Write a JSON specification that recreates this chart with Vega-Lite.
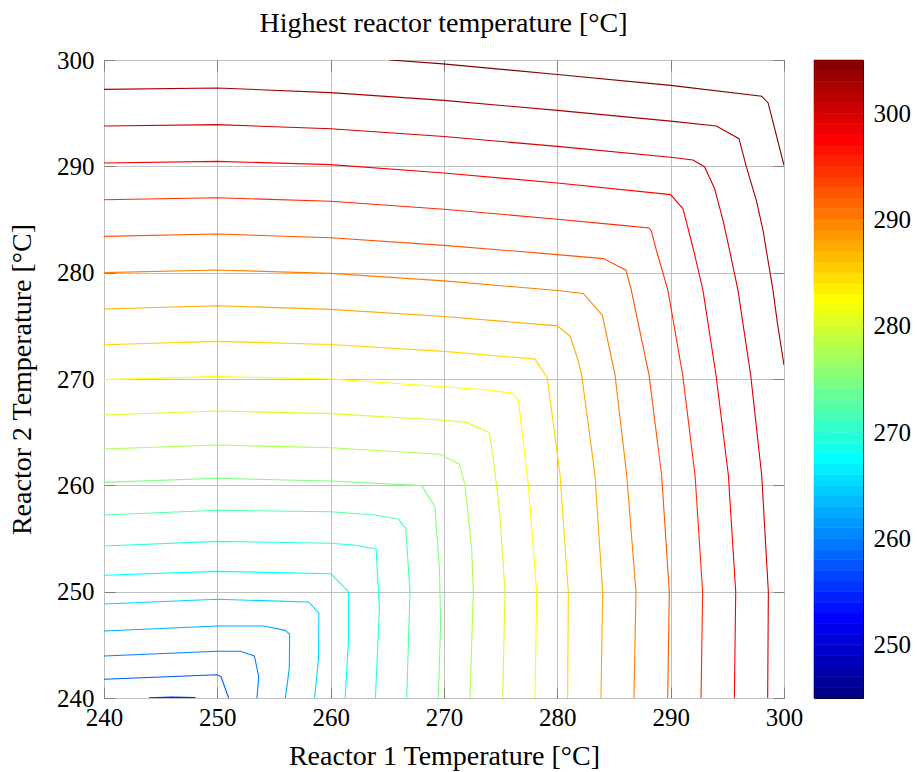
{
"$schema":"https://vega.github.io/schema/vega-lite/v6.json",
"padding":{"left":8,"top":9,"right":0,"bottom":0},
"title":{"text":"Highest reactor temperature [°C]","anchor":"middle","dx":-16,"offset":10,"font":"Liberation Serif","fontSize":28,"fontWeight":"normal","color":"#000000"},
"spacing":6,
"datasets":{
"contours":[
{"lvl":305,"i":0,"x":265.2,"y":300},{"lvl":305,"i":1,"x":269.65,"y":299.66},{"lvl":305,"i":2,"x":280,"y":298.64},{"lvl":305,"i":3,"x":290,"y":297.61},{"lvl":305,"i":4,"x":298.03,"y":296.6},{"lvl":305,"i":5,"x":298.6,"y":295.96},{"lvl":305,"i":6,"x":300,"y":290.1},
{"lvl":302.5,"i":0,"x":240,"y":297.24},{"lvl":302.5,"i":1,"x":250,"y":297.37},{"lvl":302.5,"i":2,"x":260,"y":296.93},{"lvl":302.5,"i":3,"x":270,"y":296.2},{"lvl":302.5,"i":4,"x":280,"y":295.26},{"lvl":302.5,"i":5,"x":290,"y":294.25},{"lvl":302.5,"i":6,"x":294.03,"y":293.8},{"lvl":302.5,"i":7,"x":296.03,"y":292.6},{"lvl":302.5,"i":8,"x":296.68,"y":289.94},{"lvl":302.5,"i":9,"x":297.56,"y":286.8},{"lvl":302.5,"i":10,"x":298.15,"y":283.98},{"lvl":302.5,"i":11,"x":298.44,"y":282.1},{"lvl":302.5,"i":12,"x":299.03,"y":278.34},{"lvl":302.5,"i":13,"x":299.4,"y":275.4},{"lvl":302.5,"i":14,"x":300,"y":271.3},
{"lvl":300,"i":0,"x":240,"y":293.79},{"lvl":300,"i":1,"x":250,"y":293.92},{"lvl":300,"i":2,"x":260,"y":293.54},{"lvl":300,"i":3,"x":270,"y":292.8},{"lvl":300,"i":4,"x":280,"y":291.88},{"lvl":300,"i":5,"x":290,"y":290.85},{"lvl":300,"i":6,"x":291.97,"y":290.6},{"lvl":300,"i":7,"x":293.0,"y":289.94},{"lvl":300,"i":8,"x":293.88,"y":287.9},{"lvl":300,"i":9,"x":294.62,"y":284.92},{"lvl":300,"i":10,"x":295.2,"y":282.1},{"lvl":300,"i":11,"x":295.94,"y":278.34},{"lvl":300,"i":12,"x":297.06,"y":270.38},{"lvl":300,"i":13,"x":298.03,"y":260.97},{"lvl":300,"i":14,"x":298.62,"y":250},{"lvl":300,"i":15,"x":298.56,"y":240},
{"lvl":297.5,"i":0,"x":240,"y":290.31},{"lvl":297.5,"i":1,"x":250,"y":290.47},{"lvl":297.5,"i":2,"x":260,"y":290.16},{"lvl":297.5,"i":3,"x":270,"y":289.37},{"lvl":297.5,"i":4,"x":280,"y":288.43},{"lvl":297.5,"i":5,"x":290,"y":287.34},{"lvl":297.5,"i":6,"x":291.09,"y":286.0},{"lvl":297.5,"i":7,"x":292.03,"y":282.1},{"lvl":297.5,"i":8,"x":292.85,"y":278.34},{"lvl":297.5,"i":9,"x":294.0,"y":270.38},{"lvl":297.5,"i":10,"x":295.09,"y":260.97},{"lvl":297.5,"i":11,"x":295.74,"y":250},{"lvl":297.5,"i":12,"x":295.62,"y":240},
{"lvl":295,"i":0,"x":240,"y":286.86},{"lvl":295,"i":1,"x":250,"y":287.05},{"lvl":295,"i":2,"x":260,"y":286.71},{"lvl":295,"i":3,"x":270,"y":285.97},{"lvl":295,"i":4,"x":280,"y":285.02},{"lvl":295,"i":5,"x":285.5,"y":284.47},{"lvl":295,"i":6,"x":288.09,"y":284.2},{"lvl":295,"i":7,"x":288.3,"y":283.9},{"lvl":295,"i":8,"x":288.74,"y":282.1},{"lvl":295,"i":9,"x":289.76,"y":278.34},{"lvl":295,"i":10,"x":291.06,"y":270.38},{"lvl":295,"i":11,"x":292.15,"y":260.97},{"lvl":295,"i":12,"x":292.82,"y":250},{"lvl":295,"i":13,"x":292.68,"y":240},
{"lvl":292.5,"i":0,"x":240,"y":283.41},{"lvl":292.5,"i":1,"x":250,"y":283.63},{"lvl":292.5,"i":2,"x":260,"y":283.29},{"lvl":292.5,"i":3,"x":270,"y":282.57},{"lvl":292.5,"i":4,"x":280,"y":281.7},{"lvl":292.5,"i":5,"x":284.06,"y":281.32},{"lvl":292.5,"i":6,"x":286.06,"y":280.23},{"lvl":292.5,"i":7,"x":286.53,"y":278.34},{"lvl":292.5,"i":8,"x":288.09,"y":270.38},{"lvl":292.5,"i":9,"x":289.2,"y":260.97},{"lvl":292.5,"i":10,"x":289.88,"y":250},{"lvl":292.5,"i":11,"x":289.74,"y":240},
{"lvl":290,"i":0,"x":240,"y":280.0},{"lvl":290,"i":1,"x":250,"y":280.25},{"lvl":290,"i":2,"x":260,"y":279.93},{"lvl":290,"i":3,"x":270,"y":279.23},{"lvl":290,"i":4,"x":280,"y":278.32},{"lvl":290,"i":5,"x":282.29,"y":278.04},{"lvl":290,"i":6,"x":283.97,"y":276.0},{"lvl":290,"i":7,"x":285.09,"y":270.38},{"lvl":290,"i":8,"x":286.12,"y":260.97},{"lvl":290,"i":9,"x":286.94,"y":250},{"lvl":290,"i":10,"x":286.76,"y":240},
{"lvl":287.5,"i":0,"x":240,"y":276.58},{"lvl":287.5,"i":1,"x":250,"y":276.89},{"lvl":287.5,"i":2,"x":260,"y":276.55},{"lvl":287.5,"i":3,"x":270,"y":275.88},{"lvl":287.5,"i":4,"x":280,"y":275.0},{"lvl":287.5,"i":5,"x":281.12,"y":274.03},{"lvl":287.5,"i":6,"x":281.76,"y":271.99},{"lvl":287.5,"i":7,"x":282.15,"y":270.38},{"lvl":287.5,"i":8,"x":283.32,"y":260.97},{"lvl":287.5,"i":9,"x":284.0,"y":250},{"lvl":287.5,"i":10,"x":283.85,"y":240},
{"lvl":285,"i":0,"x":240,"y":273.22},{"lvl":285,"i":1,"x":250,"y":273.54},{"lvl":285,"i":2,"x":260,"y":273.25},{"lvl":285,"i":3,"x":270,"y":272.6},{"lvl":285,"i":4,"x":278.03,"y":271.87},{"lvl":285,"i":5,"x":279.12,"y":270.11},{"lvl":285,"i":6,"x":280.24,"y":260.97},{"lvl":285,"i":7,"x":280.97,"y":250},{"lvl":285,"i":8,"x":280.91,"y":240},
{"lvl":282.5,"i":0,"x":240,"y":269.94},{"lvl":282.5,"i":1,"x":250,"y":270.22},{"lvl":282.5,"i":2,"x":260,"y":270.0},{"lvl":282.5,"i":3,"x":269.65,"y":269.3},{"lvl":282.5,"i":4,"x":273.91,"y":268.97},{"lvl":282.5,"i":5,"x":276.06,"y":268.65},{"lvl":282.5,"i":6,"x":276.56,"y":268.03},{"lvl":282.5,"i":7,"x":277.44,"y":260.03},{"lvl":282.5,"i":8,"x":278.18,"y":250},{"lvl":282.5,"i":9,"x":278.03,"y":240},
{"lvl":280,"i":0,"x":240,"y":266.61},{"lvl":280,"i":1,"x":250,"y":266.99},{"lvl":280,"i":2,"x":260,"y":266.74},{"lvl":280,"i":3,"x":269.65,"y":266.14},{"lvl":280,"i":4,"x":272.0,"y":265.92},{"lvl":280,"i":5,"x":274.0,"y":264.95},{"lvl":280,"i":6,"x":274.35,"y":262.54},{"lvl":280,"i":7,"x":274.94,"y":257.21},{"lvl":280,"i":8,"x":275.38,"y":250},{"lvl":280,"i":9,"x":275.18,"y":240},
{"lvl":277.5,"i":0,"x":240,"y":263.42},{"lvl":277.5,"i":1,"x":250,"y":263.79},{"lvl":277.5,"i":2,"x":260,"y":263.54},{"lvl":277.5,"i":3,"x":269.65,"y":262.92},{"lvl":277.5,"i":4,"x":271.35,"y":262.01},{"lvl":277.5,"i":5,"x":271.85,"y":260.03},{"lvl":277.5,"i":6,"x":272.44,"y":254.08},{"lvl":277.5,"i":7,"x":272.59,"y":250},{"lvl":277.5,"i":8,"x":272.29,"y":240},
{"lvl":275,"i":0,"x":240,"y":260.28},{"lvl":275,"i":1,"x":250,"y":260.66},{"lvl":275,"i":2,"x":260,"y":260.41},{"lvl":275,"i":3,"x":268.03,"y":259.97},{"lvl":275,"i":4,"x":269.2,"y":257.99},{"lvl":275,"i":5,"x":269.6,"y":252},{"lvl":275,"i":6,"x":269.7,"y":247},{"lvl":275,"i":7,"x":269.5,"y":240},
{"lvl":272.5,"i":0,"x":240,"y":257.21},{"lvl":272.5,"i":1,"x":250,"y":257.65},{"lvl":272.5,"i":2,"x":260,"y":257.52},{"lvl":272.5,"i":3,"x":263.92,"y":257.21},{"lvl":272.5,"i":4,"x":265.98,"y":256.83},{"lvl":272.5,"i":5,"x":266.62,"y":255.96},{"lvl":272.5,"i":6,"x":267.0,"y":250},{"lvl":272.5,"i":7,"x":266.71,"y":240},
{"lvl":270,"i":0,"x":240,"y":254.3},{"lvl":270,"i":1,"x":250,"y":254.73},{"lvl":270,"i":2,"x":260,"y":254.55},{"lvl":270,"i":3,"x":262.01,"y":254.39},{"lvl":270,"i":4,"x":264.01,"y":254.01},{"lvl":270,"i":5,"x":264.3,"y":248.43},{"lvl":270,"i":6,"x":263.95,"y":240},
{"lvl":267.5,"i":0,"x":240,"y":251.54},{"lvl":267.5,"i":1,"x":250,"y":251.91},{"lvl":267.5,"i":2,"x":260.02,"y":251.69},{"lvl":267.5,"i":3,"x":261.57,"y":250},{"lvl":267.5,"i":4,"x":261.57,"y":245.3},{"lvl":267.5,"i":5,"x":261.28,"y":240},
{"lvl":265,"i":0,"x":240,"y":248.84},{"lvl":265,"i":1,"x":250,"y":249.28},{"lvl":265,"i":2,"x":258.05,"y":249.03},{"lvl":265,"i":3,"x":258.96,"y":248},{"lvl":265,"i":4,"x":258.93,"y":243.73},{"lvl":265,"i":5,"x":258.58,"y":240},
{"lvl":262.5,"i":0,"x":240,"y":246.3},{"lvl":262.5,"i":1,"x":250,"y":246.77},{"lvl":262.5,"i":2,"x":254.09,"y":246.77},{"lvl":262.5,"i":3,"x":256.0,"y":246.36},{"lvl":262.5,"i":4,"x":256.38,"y":245.99},{"lvl":262.5,"i":5,"x":256.35,"y":242.8},{"lvl":262.5,"i":6,"x":256.0,"y":240},
{"lvl":260,"i":0,"x":240,"y":243.95},{"lvl":260,"i":1,"x":250,"y":244.39},{"lvl":260,"i":2,"x":252.03,"y":244.39},{"lvl":260,"i":3,"x":253.27,"y":243.95},{"lvl":260,"i":4,"x":253.65,"y":242},{"lvl":260,"i":5,"x":253.5,"y":240},
{"lvl":257.5,"i":0,"x":240,"y":241.76},{"lvl":257.5,"i":1,"x":250,"y":242.18},{"lvl":257.5,"i":2,"x":250.33,"y":241.99},{"lvl":257.5,"i":3,"x":251.0,"y":240},
{"lvl":255,"i":0,"x":243.96,"y":240.02},{"lvl":255,"i":1,"x":246,"y":240.08},{"lvl":255,"i":2,"x":248.07,"y":240.05}
],
"bar":[
{"lo":245,"hi":246,"v":245.5},{"lo":246,"hi":247,"v":246.5},{"lo":247,"hi":248,"v":247.5},{"lo":248,"hi":249,"v":248.5},{"lo":249,"hi":250,"v":249.5},
{"lo":250,"hi":251,"v":250.5},{"lo":251,"hi":252,"v":251.5},{"lo":252,"hi":253,"v":252.5},{"lo":253,"hi":254,"v":253.5},{"lo":254,"hi":255,"v":254.5},
{"lo":255,"hi":256,"v":255.5},{"lo":256,"hi":257,"v":256.5},{"lo":257,"hi":258,"v":257.5},{"lo":258,"hi":259,"v":258.5},{"lo":259,"hi":260,"v":259.5},
{"lo":260,"hi":261,"v":260.5},{"lo":261,"hi":262,"v":261.5},{"lo":262,"hi":263,"v":262.5},{"lo":263,"hi":264,"v":263.5},{"lo":264,"hi":265,"v":264.5},
{"lo":265,"hi":266,"v":265.5},{"lo":266,"hi":267,"v":266.5},{"lo":267,"hi":268,"v":267.5},{"lo":268,"hi":269,"v":268.5},{"lo":269,"hi":270,"v":269.5},
{"lo":270,"hi":271,"v":270.5},{"lo":271,"hi":272,"v":271.5},{"lo":272,"hi":273,"v":272.5},{"lo":273,"hi":274,"v":273.5},{"lo":274,"hi":275,"v":274.5},
{"lo":275,"hi":276,"v":275.5},{"lo":276,"hi":277,"v":276.5},{"lo":277,"hi":278,"v":277.5},{"lo":278,"hi":279,"v":278.5},{"lo":279,"hi":280,"v":279.5},
{"lo":280,"hi":281,"v":280.5},{"lo":281,"hi":282,"v":281.5},{"lo":282,"hi":283,"v":282.5},{"lo":283,"hi":284,"v":283.5},{"lo":284,"hi":285,"v":284.5},
{"lo":285,"hi":286,"v":285.5},{"lo":286,"hi":287,"v":286.5},{"lo":287,"hi":288,"v":287.5},{"lo":288,"hi":289,"v":288.5},{"lo":289,"hi":290,"v":289.5},
{"lo":290,"hi":291,"v":290.5},{"lo":291,"hi":292,"v":291.5},{"lo":292,"hi":293,"v":292.5},{"lo":293,"hi":294,"v":293.5},{"lo":294,"hi":295,"v":294.5},
{"lo":295,"hi":296,"v":295.5},{"lo":296,"hi":297,"v":296.5},{"lo":297,"hi":298,"v":297.5},{"lo":298,"hi":299,"v":298.5},{"lo":299,"hi":300,"v":299.5},
{"lo":300,"hi":301,"v":300.5},{"lo":301,"hi":302,"v":301.5},{"lo":302,"hi":303,"v":302.5},{"lo":303,"hi":304,"v":303.5},{"lo":304,"hi":305,"v":304.5}
]
},
"hconcat":[
{
"width":680,"height":638,
"data":{"name":"contours"},
"layer":[
{"mark":{"type":"line","strokeWidth":1.1,"interpolate":"linear","clip":true},
"encoding":{
"x":{"field":"x","type":"quantitative","scale":{"domain":[240,300],"nice":false,"zero":false},
"axis":{"orient":"bottom","values":[240,250,260,270,280,290,300],"title":"Reactor 1 Temperature [°C]","grid":true,"tickSize":-11,"labelPadding":18,"titlePadding":12,"labelFlush":false,"labelFont":"Liberation Serif","titleFont":"Liberation Serif"}},
"y":{"field":"y","type":"quantitative","scale":{"domain":[240,300],"nice":false,"zero":false},
"axis":{"orient":"left","values":[240,250,260,270,280,290,300],"title":"Reactor 2 Temperature [°C]","grid":true,"tickSize":-11,"labelPadding":21,"titlePadding":20,"labelFlush":false,"labelFont":"Liberation Serif","titleFont":"Liberation Serif"}},
"color":{"field":"lvl","type":"quantitative","scale":{"domain":[245,252.5,267.5,282.5,297.5,305],"range":["#000080","#0000ff","#00ffff","#ffff00","#ff0000","#800000"],"interpolate":"rgb"},"legend":null},
"detail":{"field":"lvl","type":"nominal"},
"order":{"field":"i","type":"quantitative"}
}},
{"mark":{"type":"point","opacity":0},
"encoding":{
"x":{"field":"x","type":"quantitative","axis":{"orient":"top","labels":false,"title":null,"grid":false,"tickSize":-11,"labelPadding":0,"minExtent":0,"maxExtent":0,"values":[240,250,260,270,280,290,300]}},
"y":{"field":"y","type":"quantitative","axis":{"orient":"right","labels":false,"title":null,"grid":false,"tickSize":-11,"labelPadding":0,"minExtent":0,"maxExtent":0,"values":[240,250,260,270,280,290,300]}}
}}
],
"resolve":{"axis":{"x":"independent","y":"independent"}}
},
{
"width":49,"height":638,
"data":{"name":"bar"},
"layer":[
{"mark":{"type":"rect","strokeWidth":0.6},
"encoding":{
"x":{"datum":0,"type":"quantitative","scale":{"domain":[0,1],"nice":false,"zero":false},"axis":null},
"x2":{"datum":1},
"y":{"field":"lo","type":"quantitative","scale":{"domain":[245,305],"nice":false,"zero":false},
"axis":{"orient":"right","values":[250,260,270,280,290,300],"title":null,"grid":false,"tickSize":-11,"labelPadding":21,"labelFlush":false,"labelFont":"Liberation Serif"}},
"y2":{"field":"hi"},
"color":{"field":"v","type":"quantitative","scale":{"domain":[245,252.5,267.5,282.5,297.5,305],"range":["#000080","#0000ff","#00ffff","#ffff00","#ff0000","#800000"],"interpolate":"rgb"},"legend":null},
"stroke":{"field":"v","type":"quantitative","scale":{"domain":[245,252.5,267.5,282.5,297.5,305],"range":["#000080","#0000ff","#00ffff","#ffff00","#ff0000","#800000"],"interpolate":"rgb"},"legend":null}
}},
{"mark":{"type":"point","opacity":0},
"encoding":{
"x":{"datum":0,"type":"quantitative","axis":null},
"y":{"field":"lo","type":"quantitative","axis":{"orient":"left","labels":false,"title":null,"grid":false,"tickSize":-11,"labelPadding":0,"minExtent":0,"maxExtent":0,"values":[250,260,270,280,290,300]}}
}}
],
"resolve":{"axis":{"y":"independent"}}
}
],
"config":{
"font":"Liberation Serif",
"view":{"stroke":"#000000","strokeWidth":1},
"style":{"guide-label":{"font":"Liberation Serif"},"guide-title":{"font":"Liberation Serif"}},
"axis":{"labelFont":"Liberation Serif","labelFontSize":25,"labelColor":"#000000","titleFont":"Liberation Serif","titleFontSize":28,"titleFontWeight":"normal","titleColor":"#000000","gridColor":"#c0c0c0","gridWidth":1,"tickColor":"#808080","tickWidth":1,"domain":false,"labelOverlap":false},
"title":{"font":"Liberation Serif","fontSize":28,"fontWeight":"normal","color":"#000000"}
}
}
